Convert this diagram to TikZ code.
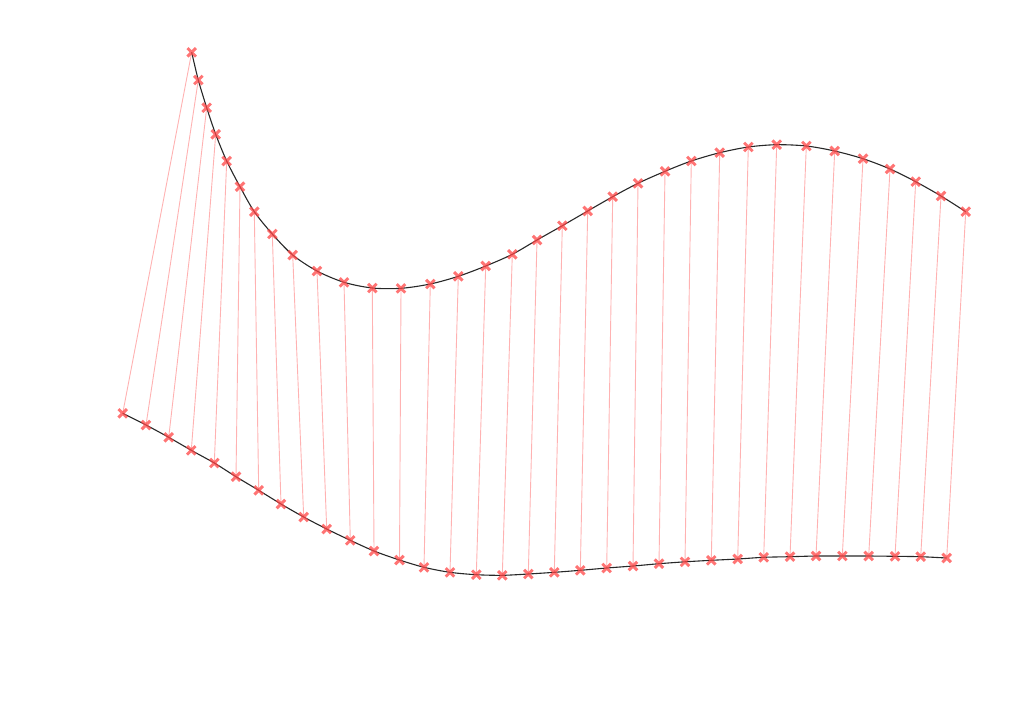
\documentclass[tikz,border=0pt]{standalone}
\usetikzlibrary{shapes.misc}
\definecolor{mkred}{RGB}{255,70,70}
\definecolor{curvegray}{RGB}{40,40,40}
\tikzset{
  xmark/.style={cross out, draw=mkred, draw opacity=0.75, line width=2.9pt, minimum size=5.6pt, inner sep=0pt},
  link/.style={draw=red, draw opacity=0.3, line width=0.9pt},
  curve/.style={draw=curvegray, line width=1.1pt}
}
\begin{document}
\begin{tikzpicture}[x=1pt,y=-1pt]
\useasboundingbox (0,0) rectangle (1024,702);
\foreach \i/\x/\y in {1/191.7/52.3,2/198.3/80,3/206.7/107.7,4/215.7/134.3,5/226.7/161,6/240/186.7,7/254.3/211.7,8/272.3/234,9/292.7/255,10/317/271,11/344/282.3,12/372.3/288,13/401/288.3,14/430.3/284,15/458.3/276.3,16/485.7/266,17/512.3/254.3,18/537/240,19/562.3/225.7,20/587.7/211,21/612.7/196.7,22/638/183.3,23/665/171.3,24/691.3/161,25/719.7/152.7,26/748.3/147,27/776.7/144.7,28/806.3/146,29/834.7/151,30/863/158.7,31/890/169,32/915.7/181.7,33/941/196,34/965.7/211.7}
  {\coordinate (t\i) at (\x,\y);}
\foreach \i/\x/\y in {1/122.7/413.3,2/146/425,3/168.7/437.3,4/191.3/450.3,5/214.3/463,6/236/476.7,7/258.7/490.3,8/281/504,9/303.7/517,10/326.7/529,11/350.3/540.3,12/374/551,13/399.5/560,14/424/567.3,15/450/572.3,16/476.3/574.7,17/502.3/575.3,18/528.3/574,19/554.3/572.3,20/580.3/570.3,21/606.7/568,22/633/566,23/659/563.7,24/685/561.8,25/711.3/560.3,26/737.7/559,27/763.7/557.3,28/790/556.7,29/816/556,30/842.3/556,31/868.7/556,32/895/556.3,33/920.7/556.7,34/946.7/558}
  {\coordinate (b\i) at (\x,\y);}
% links
\foreach \i in {1,...,34} {\draw[link] (t\i) -- (b\i);}
% curves
\draw[curve] plot[smooth, tension=0.5] coordinates {(t1) (t2) (t3) (t4) (t5) (t6) (t7) (t8) (t9) (t10) (t11) (t12) (t13) (t14) (t15) (t16) (t17) (t18) (t19) (t20) (t21) (t22) (t23) (t24) (t25) (t26) (t27) (t28) (t29) (t30) (t31) (t32) (t33) (t34)};
\draw[curve] plot[smooth, tension=0.5] coordinates {(b1) (b2) (b3) (b4) (b5) (b6) (b7) (b8) (b9) (b10) (b11) (b12) (b13) (b14) (b15) (b16) (b17) (b18) (b19) (b20) (b21) (b22) (b23) (b24) (b25) (b26) (b27) (b28) (b29) (b30) (b31) (b32) (b33) (b34)};
% markers
\foreach \i in {1,...,34} {
  \node[xmark] (mt\i) at (t\i) {};
  \node[xmark] (mb\i) at (b\i) {};
}
\end{tikzpicture}
\end{document}
